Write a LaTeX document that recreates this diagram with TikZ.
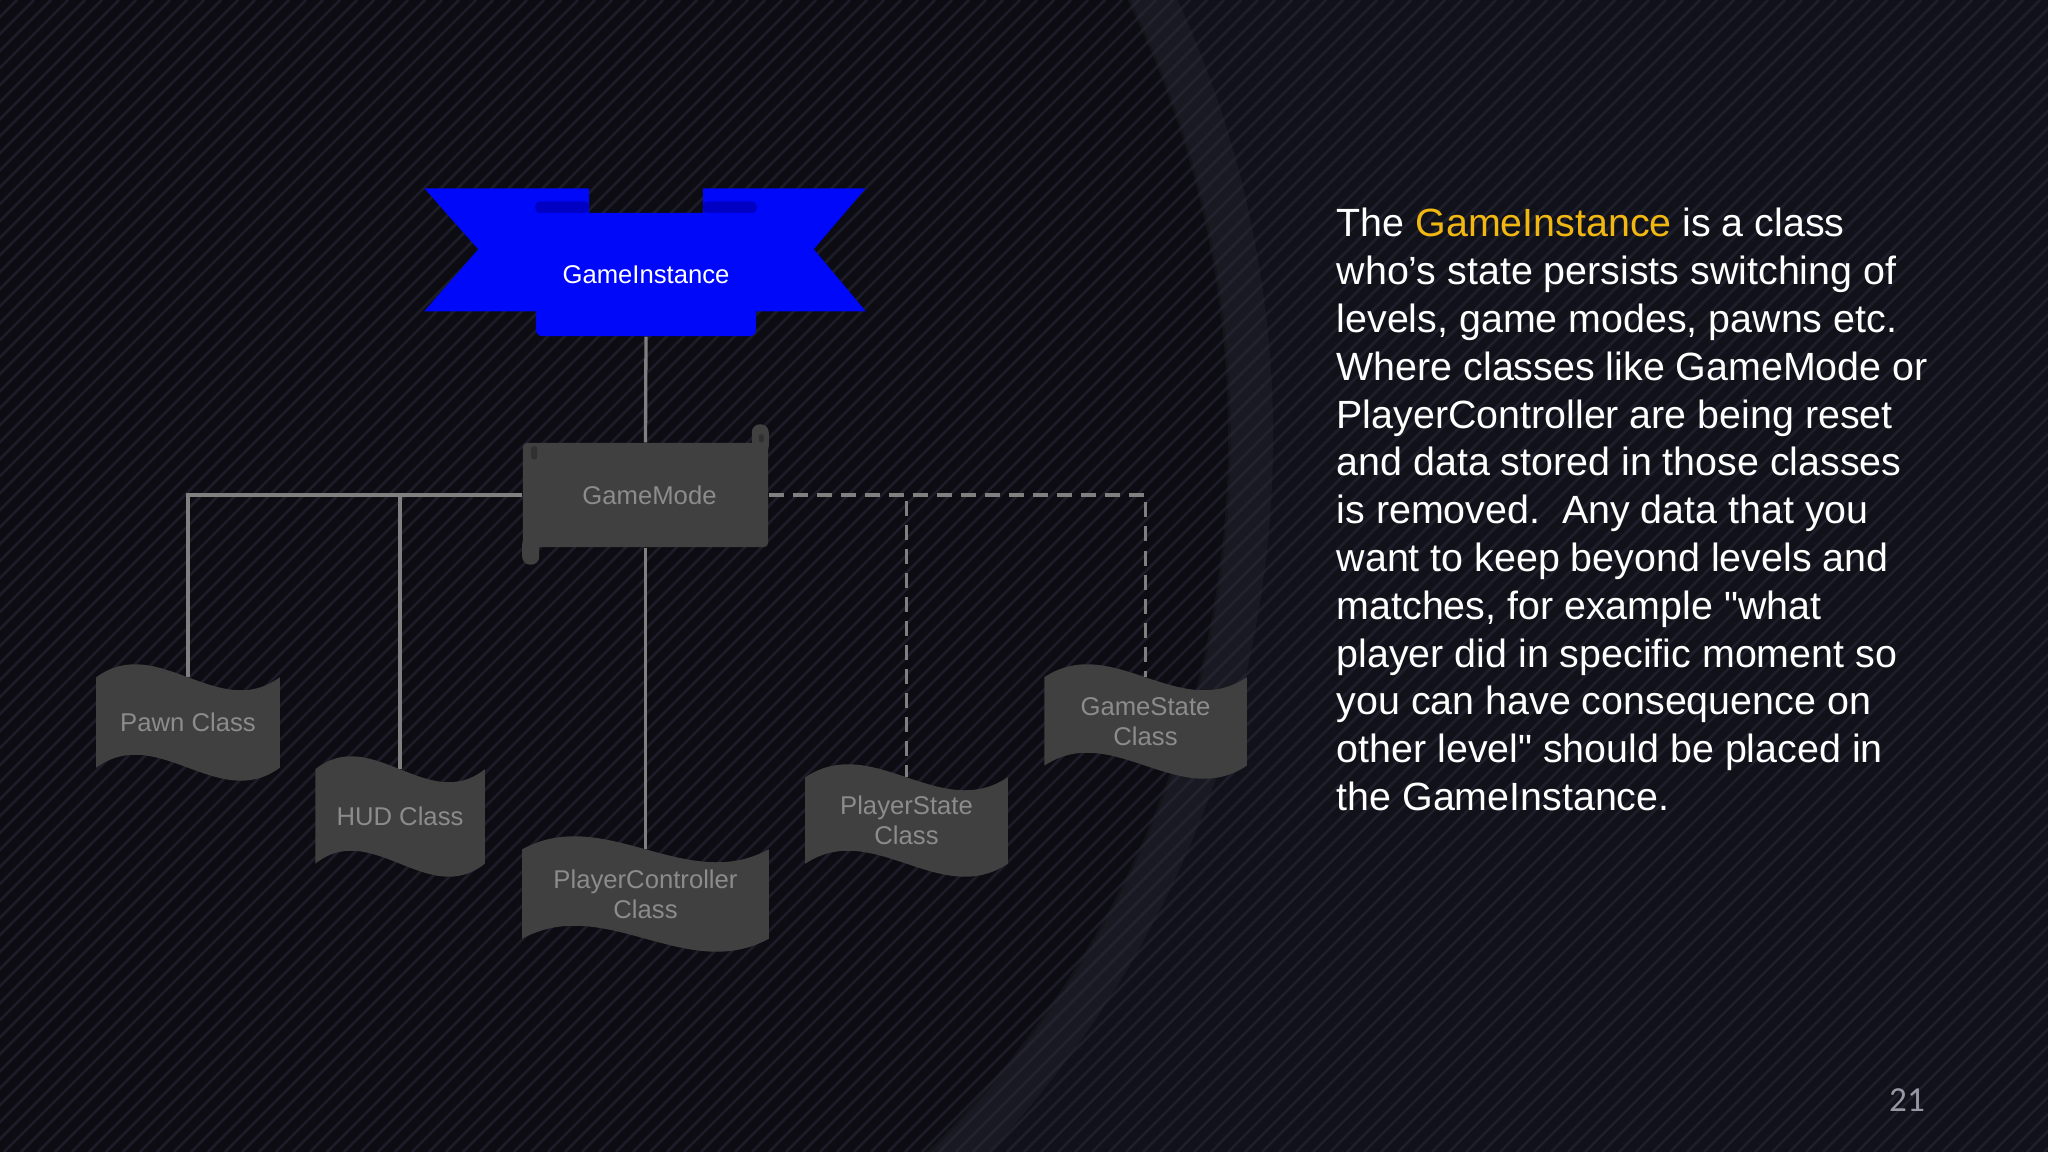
\documentclass[tikz,border=0pt]{standalone}
\usepackage{fontspec}
\setmainfont{Liberation Sans}[Ligatures=TeXOff]
\newfontfamily\pagefont{Carlito}
\usetikzlibrary{calc}
\definecolor{bgbase}{RGB}{17,17,25}
\definecolor{stripecol}{RGB}{44,44,60}
\definecolor{ribbonblue}{RGB}{0,8,250}
\definecolor{folddark}{RGB}{0,0,196}
\definecolor{boxfill}{RGB}{64,64,64}
\definecolor{boxmark}{RGB}{48,48,48}
\definecolor{labelgray}{RGB}{140,140,140}
\definecolor{linegray}{RGB}{128,128,128}
\definecolor{accent}{RGB}{242,184,18}
\definecolor{pagegray}{RGB}{150,150,164}
\pgfdeclarelayer{back}
\pgfdeclarelayer{shapes}
\pgfsetlayers{back,shapes,main}
\newcommand\wavefill[2][45]{%
  \fill[boxfill] (#2.north west)
    .. controls ($(#2.north west)!0.3333!(#2.north east)+(0,-#1)$) and ($(#2.north west)!0.6667!(#2.north east)+(0,#1)$) .. (#2.north east)
    -- (#2.south east)
    .. controls ($(#2.south east)!0.3333!(#2.south west)+(0,#1)$) and ($(#2.south east)!0.6667!(#2.south west)+(0,-#1)$) .. (#2.south west)
    -- cycle;}
\begin{document}
\begin{tikzpicture}[x=0.01cm,y=-0.01cm,
  lbl/.style={text=labelgray,font=\fontsize{7.3}{8.6}\selectfont,align=center,inner sep=0pt},
  wavebox/.style={lbl,minimum width=#1},
  conn/.style={draw=linegray,line width=0.033cm},
  dconn/.style={conn,dash pattern=on 0.15cm off 0.09cm},
  bodytext/.style={text=white,font=\fontsize{11.2}{13.6}\selectfont,anchor=base west,inner sep=0pt}]
\useasboundingbox (0,0) rectangle (2048,1152);

% ---------- nodes ----------
\node[fill=ribbonblue,rounded corners=0.06cm,minimum width=2.20cm,minimum height=1.23cm,inner sep=0pt,
      text=white,font=\fontsize{7.3}{8.6}\selectfont] (gi) at (646,274.5) {GameInstance};
\node[fill=boxfill,rounded corners=0.04cm,minimum width=2.45cm,minimum height=1.04cm,inner sep=0pt,
      text=labelgray,font=\fontsize{7.3}{8.6}\selectfont] (gm) at (645.5,495) {\hspace*{0.08cm}GameMode};
\node[wavebox=1.82cm,minimum height=0.89cm] (pawn) at (188,722.5) {Pawn Class};
\node[wavebox=1.68cm,minimum height=0.93cm] (hud) at (400,816.5) {HUD Class};
\node[wavebox=2.45cm,minimum height=0.88cm] (pc) at (645.5,894) {PlayerController\\Class};
\node[wavebox=2.01cm,minimum height=0.85cm] (ps) at (906.5,820.5) {PlayerState\\Class};
\node[wavebox=2.01cm,minimum height=0.87cm] (gs) at (1145.5,721.5) {GameState\\Class};

% GameMode scroll marks
\fill[boxmark,rounded corners=0.02cm] ($(gm.north west)+(9,4)$) rectangle ($(gm.north west)+(15,17)$);
\fill[boxmark,rounded corners=0.02cm] ($(gm.north east)+(-10,-8)$) rectangle ($(gm.north east)+(-5,0)$);

% description text
\foreach \ln [count=\i from 0] in {%
  {The \textcolor{accent}{GameInstance} is a class},
  {who’s state persists switching of},
  {levels, game modes, pawns etc.},
  {Where classes like GameMode or},
  {PlayerController are being reset},
  {and data stored in those classes},
  {is removed.\ \ Any data that you},
  {want to keep beyond levels and},
  {matches, for example "what},
  {player did in specific moment so},
  {you can have consequence on},
  {other level" should be placed in},
  {the GameInstance.}}
  \node[bodytext] (t\i) at (1336,237+47.8*\i) {\ln};

\node[text=pagegray,font=\pagefont\fontsize{10}{12}\selectfont,inner sep=0pt] (pg) at (1907,1100) {21};

% ---------- background & connectors ----------
\begin{pgfonlayer}{back}
  \fill[bgbase] (0,0) rectangle (2048,1152);
  \begin{scope}
    \clip (0,0) rectangle (2048,1152);
    \fill[black,opacity=0.28] (230,437) circle (10cm);
    \draw[white,opacity=0.035,line width=0.45cm] (230,437) circle (10.2cm);
    \foreach \c in {0,17,...,3230}
      \draw[stripecol,line width=0.025cm,opacity=0.55] (\c,0) -- (\c-1152,1152);
  \end{scope}
  \draw[conn] (gi.south) -- (gm.north);
  \draw[conn] (gm.west) -| (pawn.north);
  \draw[conn] (gm.west) -| (hud.north);
  \draw[conn] (gm.south) -- (pc.north);
  \draw[dconn] (gm.east) -| (ps.north);
  \draw[dconn] (gm.east) -| (gs.north);
\end{pgfonlayer}

% ---------- shapes ----------
\begin{pgfonlayer}{shapes}
  % ribbon wings
  \fill[ribbonblue] ($(gi.north west)+(-111,-24)$) -- ($(gi.north west)+(54,-24)$) -- ($(gi.north west)+(54,99)$)
     -- ($(gi.north west)+(-111,99)$) -- ($(gi.north west)+(-57,37)$) -- cycle;
  \fill[ribbonblue] ($(gi.north east)+(109,-24)$) -- ($(gi.north east)+(-54,-24)$) -- ($(gi.north east)+(-54,99)$)
     -- ($(gi.north east)+(109,99)$) -- ($(gi.north east)+(57,37)$) -- cycle;
  \fill[folddark,rounded corners=0.05cm] ($(gi.north west)+(0,-11)$) rectangle ($(gi.north west)+(54,1)$);
  \fill[folddark,rounded corners=0.05cm] ($(gi.north east)+(-54,-11)$) rectangle ($(gi.north east)+(0,1)$);
  % scroll curls
  \fill[boxfill,rounded corners=0.08cm] ($(gm.north east)+(-17,-18)$) rectangle ($(gm.north east)+(0,12)$);
  \fill[boxfill,rounded corners=0.08cm] ($(gm.south west)+(0,-12)$) rectangle ($(gm.south west)+(17,17)$);
  % waves
  \wavefill{pawn}
  \wavefill{hud}
  \wavefill{pc}
  \wavefill{ps}
  \wavefill{gs}
\end{pgfonlayer}
\end{tikzpicture}
\end{document}
